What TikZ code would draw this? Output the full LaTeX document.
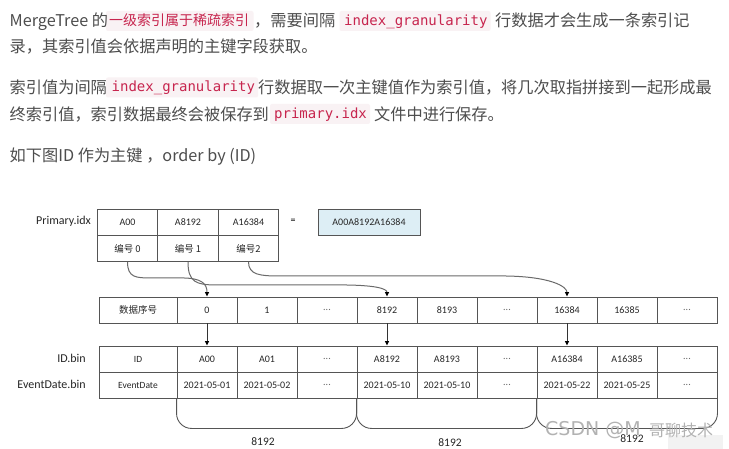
\documentclass[tikz,border=0pt]{standalone}
\usepackage{fontspec}
\usetikzlibrary{arrows.meta,calc}
\setmainfont{Noto Sans CJK SC}
\newfontfamily\cjk{Noto Sans CJK SC}
\newfontfamily\codefont{DejaVu Sans Mono}
\newfontfamily\dia{Carlito}
\newfontfamily\wmfont{DejaVu Sans}
\newcommand\celldots{\textcolor{black!60}{...}}
\definecolor{bodytext}{HTML}{4D4D4D}
\definecolor{codetext}{HTML}{C7254E}
\definecolor{codebg}{HTML}{F9F2F4}
\definecolor{idxblue}{HTML}{DDEEF5}
\definecolor{lineg}{HTML}{555555}
\definecolor{conng}{HTML}{6A6A6A}
\begin{document}
\begin{tikzpicture}[x=1bp,y=-1bp,
  body/.style={anchor=base west, inner sep=0, text=bodytext, font=\cjk\fontsize{16.2bp}{20bp}\selectfont},
  codetxt/.style={anchor=base west, inner sep=0, text=codetext, font=\codefont\fontsize{14bp}{16bp}\selectfont},
  hltxt/.style={anchor=base west, inner sep=0, text=codetext, font=\cjk\fontsize{14bp}{16bp}\selectfont},
  cell/.style={draw=lineg, line width=0.9bp, minimum width=60bp, minimum height=26bp, inner sep=0, text=black!85, font=\dia\fontsize{10bp}{12bp}\selectfont},
  zhcell/.style={cell, font=\cjk\fontsize{9.5bp}{11bp}\selectfont},
  lbl/.style={anchor=east, inner sep=0, text=black!85, font=\dia\fontsize{12bp}{14bp}\selectfont},
  numlbl/.style={inner sep=0, text=black!85, font=\dia\fontsize{11.5bp}{14bp}\selectfont},
  conn/.style={draw=conng, line width=1bp, -{Triangle[length=4.5bp,width=4bp,color=black]}},
  arr/.style={draw=black!80, line width=0.9bp, -{Triangle[length=4.5bp,width=4bp,color=black]}},
  brace/.style={draw=lineg, line width=0.9bp, rounded corners=15bp}
]
\fill[white] (0,0) rectangle (729,449);
\useasboundingbox (0,0) rectangle (729,449);

% ---------- paragraph text ----------
\fill[codebg, rounded corners=2bp] (106,11) rectangle (253.5,31);
\fill[codebg, rounded corners=2bp] (339.5,11) rectangle (490.5,31);
\fill[codebg, rounded corners=2bp] (106,77.5) rectangle (258,97.5);
\fill[codebg, rounded corners=2bp] (270,104) rectangle (370,124);

\node[body] (t1a) at (9.5,26.5) {MergeTree 的};
\node[hltxt] (t1b) at (109,26) {一级索引属于稀疏索引};
\node[body] (t1c) at (254,26.5) {，需要间隔};
\node[codetxt] (t1d) at (344,25.5) {index\_granularity};
\node[body] (t1e) at (495,26.5) {行数据才会生成一条索引记};

\node[body] (t2) at (9.5,53) {录，其索引值会依据声明的主键字段获取。};

\node[body] (t3a) at (9.5,94) {索引值为间隔};
\node[codetxt] (t3b) at (111.5,92) {index\_granularity};
\node[body] (t3c) at (258,94) {行数据取一次主键值作为索引值，将几次取指拼接到一起形成最};

\node[body] (t4a) at (9.5,120.5) {终索引值，索引数据最终会被保存到};
\node[codetxt] (t4b) at (274,118.5) {primary.idx};
\node[body] (t4c) at (374,120.5) {文件中进行保存。};

\node[body] (t5) at (9.5,162) {如下图ID 作为主键 ，order by (ID)};

% ---------- Primary.idx ----------
\node[lbl] (plbl) at (91,221) {Primary.idx};
\node[cell, minimum width=60.5bp] (p0) at (127.5,222) {A00};
\node[cell, minimum width=60.5bp] (p1) at (188,222) {A8192};
\node[cell, minimum width=60.5bp] (p2) at (248.5,222) {A16384};
\node[zhcell, minimum width=60.5bp] (n0) at (127.5,248.5) {编号 0};
\node[zhcell, minimum width=60.5bp] (n1) at (188,248.5) {编号 1};
\node[zhcell, minimum width=60.5bp] (n2) at (248.5,248.5) {编号2};
\node[inner sep=0, font=\dia\fontsize{10bp}{12bp}\selectfont] (eq) at (293,221) {=};
\node[cell, fill=idxblue, minimum width=102bp] (idx) at (369,222) {A00A8192A16384};

% ---------- row numbers ----------
\node[zhcell, minimum width=78bp] (m0) at (138,310) {数据序号};
\foreach \t [count=\i] in {0,1,\celldots,8192,8193,\celldots,16384,16385,\celldots}{
  \node[cell] (m\i) at ({147+60*\i},310) {\t};
}

% ---------- ID.bin / EventDate.bin ----------
\node[lbl] (idlbl) at (86,358.5) {ID.bin};
\node[lbl] (evlbl) at (86,384.5) {EventDate.bin};
\node[cell, minimum width=78bp, font=\dia\fontsize{9.5bp}{11bp}\selectfont] (i0) at (138,359) {ID};
\node[cell, minimum width=78bp, font=\dia\fontsize{9.5bp}{11bp}\selectfont] (e0) at (138,385) {EventDate};
\foreach \t [count=\i] in {A00,A01,\celldots,A8192,A8193,\celldots,A16384,A16385,\celldots}{
  \node[cell] (i\i) at ({147+60*\i},359) {\t};
}
\foreach \t [count=\i] in {2021-05-01,2021-05-02,\celldots,2021-05-10,2021-05-10,\celldots,2021-05-22,2021-05-25,\celldots}{
  \node[cell] (e\i) at ({147+60*\i},385) {\t};
}

% ---------- connectors ----------
\draw[conn] (n0.south) .. controls +(0,16) and +(-15,0) .. ++(24,16) -- ++(30,0)
  .. controls +(20,0) and +(0,-13) .. (m1.north);
\draw[conn] (n1.south) .. controls +(0,20) and +(-20,0) .. ++(28,23) -- ++(124,0)
  .. controls +(35,0) and +(0,-8) .. (m4.north);
\draw[conn] (n2.south) .. controls +(0,13) and +(-18,0) .. ++(30,14) -- ++(222,0)
  .. controls +(50,0) and +(0,-10) .. (m7.north);

\draw[arr] (m1.south) -- (i1.north);
\draw[arr] (m4.south) -- (i4.north);
\draw[arr] (m7.south) -- (i7.north);

% ---------- braces ----------
\draw[brace] (e1.south west) -- ++(0,30) -| (e4.south west);
\draw[brace] (e4.south west) -- ++(0,30) -| (e7.south west);
\draw[brace] (e7.south west) -- ++(0,30) -| (e9.south east);

\node[numlbl] (c1) at (263,442) {8192};
\node[numlbl] (c2) at (450,442.5) {8192};
\node[numlbl] (c3) at (632,439) {8192};

% ---------- watermark ----------
\fill[black!5] (668,435) rectangle (723,449);
\node[anchor=west, inner sep=0, text=gray!60, font=\wmfont\fontsize{19bp}{21bp}\selectfont] (wm1) at (545,430) {CSDN @M};
\node[anchor=west, inner sep=0, text=gray!60, font=\cjk\fontsize{16bp}{18bp}\selectfont] (wm2) at (649,430) {哥聊技术};
\end{tikzpicture}
\end{document}
